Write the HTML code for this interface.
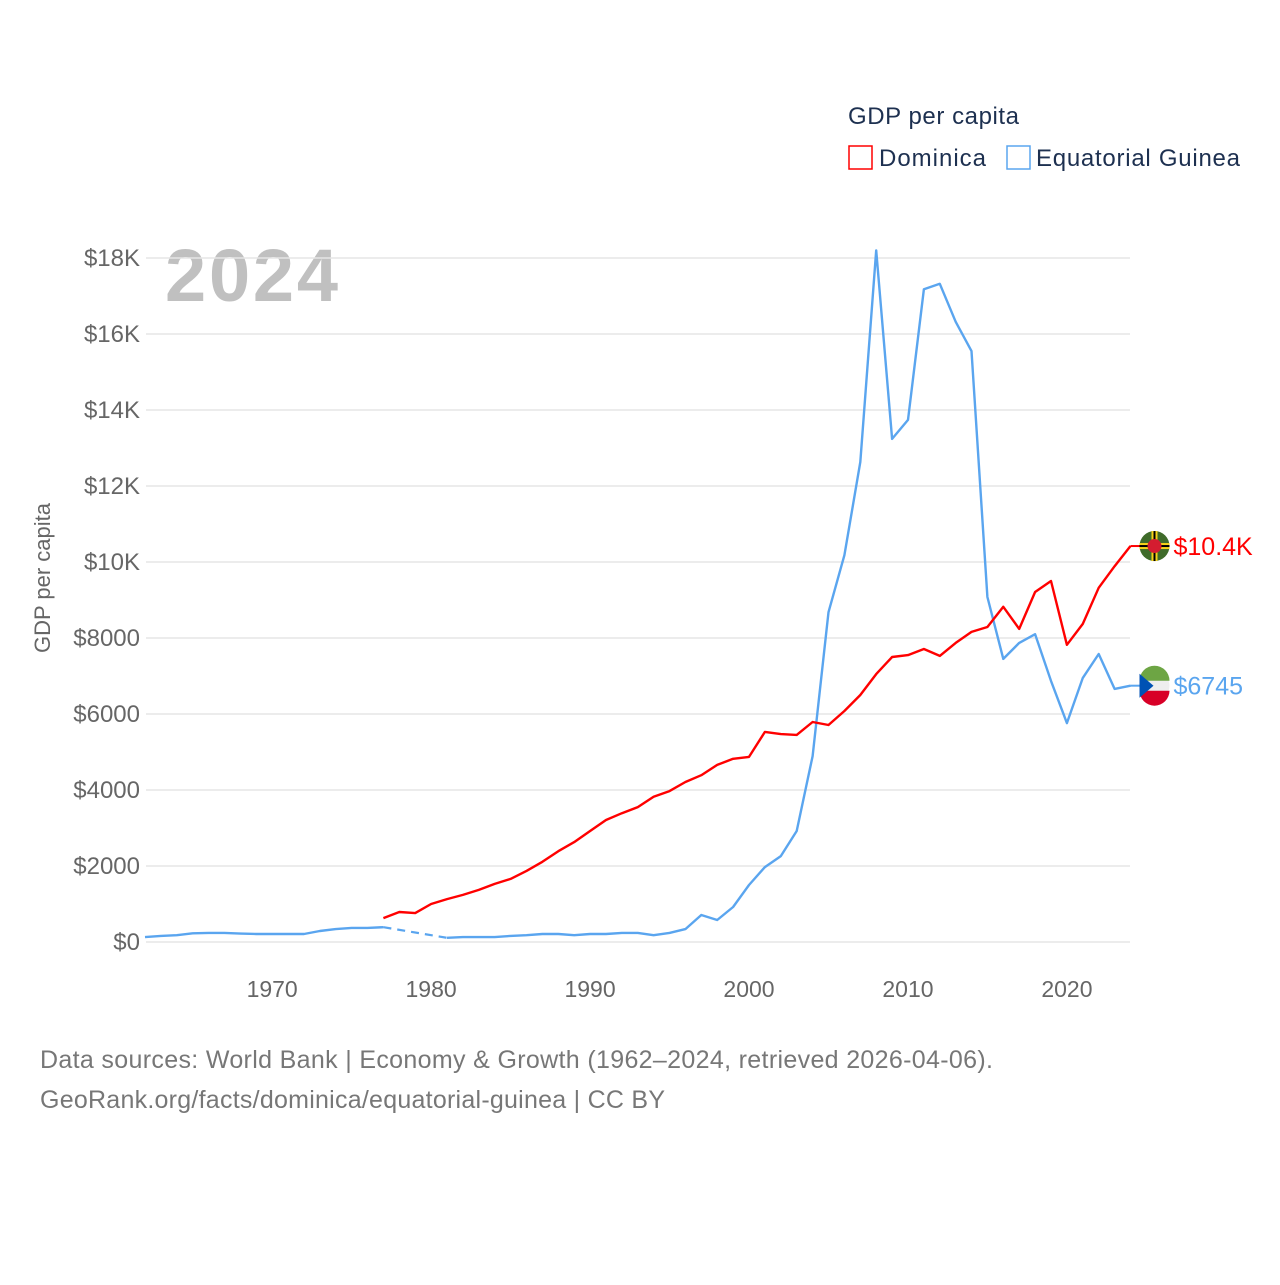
<!DOCTYPE html>
<html><head><meta charset="utf-8"><style>
body{margin:0;background:#fff;font-family:"Liberation Sans",sans-serif}
svg text{font-family:"Liberation Sans",sans-serif}
</style></head><body>
<svg width="1280" height="1280" id="c">
<text x="848" y="124" font-size="24" fill="#1d3050" textLength="171">GDP per capita</text>
<g><rect x="849" y="146" width="23" height="23" fill="none" stroke="#ff0000" stroke-width="1.5"/><text x="879" y="166" font-size="24" fill="#1d3050" textLength="107">Dominica</text></g>
<g><rect x="1007" y="146" width="23" height="23" fill="none" stroke="#5aa5ef" stroke-width="1.5"/><text x="1036" y="166" font-size="24" fill="#1d3050" textLength="204">Equatorial Guinea</text></g>
<text x="165" y="301" font-size="74" font-weight="bold" fill="#c0c0c0" textLength="173">2024</text>
<text transform="translate(50,578) rotate(-90)" text-anchor="middle" font-size="22" fill="#666">GDP per capita</text>
<g id="grid"></g><g id="lines"></g>
<text x="40" y="1068" font-size="25" fill="#777" textLength="953">Data sources: World Bank | Economy &amp; Growth (1962–2024, retrieved 2026-04-06).</text>
<text x="40" y="1108" font-size="25" fill="#777" textLength="625">GeoRank.org/facts/dominica/equatorial-guinea | CC BY</text>
</svg>
<script>
const yTicks=[0,2000,4000,6000,8000,10000,12000,14000,16000,18000];
const yTickLabels=["$0","$2000","$4000","$6000","$8000","$10K","$12K","$14K","$16K","$18K"];
const xTicks=[1970,1980,1990,2000,2010,2020];
const gqYears=[1962,1963,1964,1965,1966,1967,1968,1969,1970,1971,1972,1973,1974,1975,1976,1977,1981,1982,1983,1984,1985,1986,1987,1988,1989,1990,1991,1992,1993,1994,1995,1996,1997,1998,1999,2000,2001,2002,2003,2004,2005,2006,2007,2008,2009,2010,2011,2012,2013,2014,2015,2016,2017,2018,2019,2020,2021,2022,2023,2024];
const gqValues=[130,160,180,230,240,240,220,210,210,210,210,290,340,370,370,390,110,130,130,130,160,180,210,210,180,210,210,240,240,180,240,340,710,580,920,1500,1970,2260,2920,4890,8680,10180,12630,18200,13240,13740,17180,17320,16320,15550,9080,7450,7870,8100,6870,5760,6950,7580,6660,6745];
const dmYears=[1977,1978,1979,1980,1981,1982,1983,1984,1985,1986,1987,1988,1989,1990,1991,1992,1993,1994,1995,1996,1997,1998,1999,2000,2001,2002,2003,2004,2005,2006,2007,2008,2009,2010,2011,2012,2013,2014,2015,2016,2017,2018,2019,2020,2021,2022,2023,2024];
const dmValues=[630,790,760,1000,1130,1240,1370,1530,1660,1870,2110,2390,2630,2920,3210,3390,3550,3820,3970,4210,4390,4660,4820,4870,5530,5470,5450,5790,5710,6080,6500,7050,7500,7550,7710,7530,7870,8160,8290,8820,8240,9210,9500,7820,8370,9320,9890,10420];
const NS="http://www.w3.org/2000/svg";
const X=y=>145+(y-1962)*(1130.5-145)/62;
const Y=v=>942-v*(942-258)/18000;
function mk(t,a,p){const e=document.createElementNS(NS,t);for(const k in a)e.setAttribute(k,a[k]);p.appendChild(e);return e;}
const grid=document.getElementById('grid'),lines=document.getElementById('lines');
yTicks.forEach((v,i)=>{
 const l=mk('line',{x1:146,x2:1130,y1:Y(v),y2:Y(v),stroke:'#e6e6e6','stroke-width':1.5},grid);
 
 
 const t=mk('text',{x:140,y:Y(v)+8,'text-anchor':'end','font-size':24,fill:'#666'},grid);t.textContent=yTickLabels[i];
 
 
});
xTicks.forEach(yr=>{
 const t=mk('text',{x:X(yr),y:997,'text-anchor':'middle','font-size':23,fill:'#666'},grid);t.textContent=yr;
 
 
});
function series(years,vals,color,name){
 let segs=[[]];
 for(let i=0;i<years.length;i++){
  if(i>0&&years[i]-years[i-1]>1){
   const d=mk('line',{x1:X(years[i-1]),y1:Y(vals[i-1]),x2:X(years[i]),y2:Y(vals[i]),stroke:color,'stroke-width':2.2,'stroke-dasharray':'8 6'},lines);
   
   
   segs.push([]);
  }
  segs[segs.length-1].push(X(years[i]).toFixed(1)+','+Y(vals[i]).toFixed(1));
 }
 segs.forEach(s=>{const p=mk('polyline',{points:s.join(' '),fill:'none',stroke:color,'stroke-width':2.4,'stroke-linejoin':'round'},lines);
  
  });
}
series(gqYears,gqValues,'#5aa5ef','equatorial-guinea');
series(dmYears,dmValues,'#ff0000','dominica');
function endLabel(yv,color,txt,name,flag){
 const x=X(2024),y=Y(yv);
 const g=mk('g',{},lines);
 
 
 mk('line',{x1:x,x2:x+10,y1:y,y2:y,stroke:color,'stroke-width':2},g);
 const cx=x+24;
 if(flag==='dm'){
  mk('circle',{cx:cx,cy:y,r:15,fill:'#3f6b2a'},g);
  mk('rect',{x:cx-15,y:y-3,width:30,height:6,fill:'#f6d21a'},g);
  mk('rect',{x:cx-3,y:y-15,width:6,height:30,fill:'#f6d21a'},g);
  mk('rect',{x:cx-15,y:y-1,width:30,height:2,fill:'#000'},g);
  mk('rect',{x:cx-1,y:y-15,width:2,height:30,fill:'#000'},g);
  mk('circle',{cx:cx,cy:y,r:7,fill:'#d41c30'},g);
 }else{
  mk('circle',{cx:cx,cy:y,r:15,fill:'#eee'},g);
  mk('path',{d:`M${cx-15},${y-5} A15,15 0 0 1 ${cx+15},${y-5} Z`,fill:'#6da544'},g);
  mk('path',{d:`M${cx-15},${y+5} A15,15 0 0 0 ${cx+15},${y+5} Z`,fill:'#d80027'},g);
  mk('path',{d:`M${cx-15},${y-12} L${cx-1},${y} L${cx-15},${y+12} Z`,fill:'#0052b4'},g);
 }
 const t=mk('text',{x:x+43,y:y+9,'font-size':25,fill:color},g);t.textContent=txt;
}
endLabel(dmValues[dmValues.length-1],'#ff0000','$10.4K','dominica','dm');
endLabel(gqValues[gqValues.length-1],'#5aa5ef','$6745','equatorial-guinea','gq');
</script>
</body></html>
